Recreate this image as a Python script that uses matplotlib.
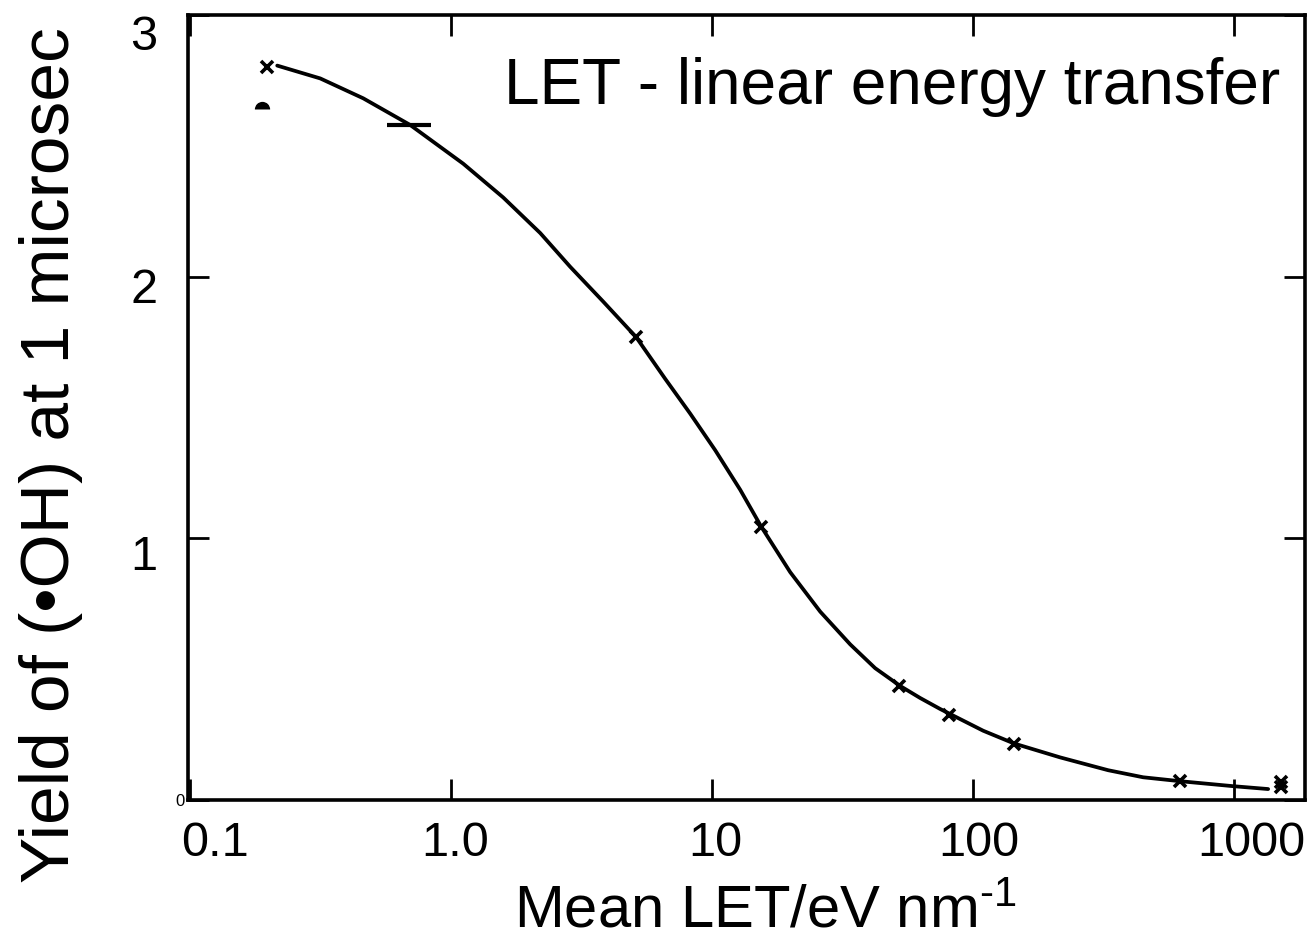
"""Yield of OH radicals versus mean LET, redrawn from a scanned figure."""
import matplotlib

matplotlib.use("Agg")
import matplotlib.pyplot as plt  # noqa: E402
import matplotlib.transforms as mtransforms  # noqa: E402

plt.rcParams["font.family"] = ["Liberation Sans", "DejaVu Sans"]
plt.rcParams["mathtext.fontset"] = "custom"
plt.rcParams["mathtext.rm"] = "Liberation Sans"
plt.rcParams["mathtext.it"] = "Liberation Sans:italic"

# smooth curve (LET in eV/nm, yield)
curve_let = [0.2154, 0.3148, 0.460, 0.6964, 1.112, 1.582, 2.193, 2.857,
             3.823, 5.114, 6.604, 8.234, 10.27, 12.80, 15.41, 19.90, 25.94,
             33.79, 42.12, 52.52, 62.65, 74.73, 109.2, 143.6, 215.4, 329.0,
             448.0, 621.1, 991, 1350]
curve_yield = [2.807, 2.758, 2.682, 2.580, 2.432, 2.303, 2.167, 2.038,
               1.905, 1.769, 1.610, 1.477, 1.337, 1.186, 1.045, 0.871, 0.720,
               0.595, 0.504, 0.436, 0.390, 0.348, 0.265, 0.216, 0.163, 0.114,
               0.087, 0.072, 0.053, 0.042]

# measured points (crosses)
point_let = [0.197, 5.11, 15.4, 52.2, 80.7, 143.6, 621, 1518, 1518]
point_yield = [2.80, 1.77, 1.045, 0.436, 0.326, 0.216, 0.072, 0.068, 0.050]

# stray marks from the original scan
dome_let, dome_yield = [0.189], [2.64]
dash_let, dash_yield = [0.69], [2.58]

xticks = [0.1, 1, 10, 100, 1000]
xtick_labels = ["0.1", "1.0", "10", "100", "1000"]
yticks = [0, 1, 2, 3]
ytick_labels = ["0", "1", "2", "3"]

fig = plt.figure(figsize=(13.09, 9.44), dpi=100)
ax = fig.add_axes([0.1436, 0.1525, 0.8534, 0.8315])

ax.plot(curve_let, curve_yield, color="black", lw=2.7, solid_capstyle="round",
        solid_joinstyle="round")
ax.plot(point_let, point_yield, ls="none", marker="x", color="black",
        markersize=8, mew=2.6)
ax.plot(dome_let, dome_yield, ls="none", marker="o", fillstyle="top",
        color="black", markerfacecoloralt="none", mew=0, markersize=11)
ax.plot(dash_let, dash_yield, ls="none", marker="_", color="black",
        markersize=31, mew=3)

ax.set_xscale("log")
ax.set_xlim(0.098, 1870)
ax.set_ylim(0, 2.973)

ax.set_xticks(xticks)
ax.set_xticklabels(xtick_labels)
ax.xaxis.set_minor_locator(matplotlib.ticker.NullLocator())
ax.set_yticks(yticks)
ax.set_yticklabels(ytick_labels)

ax.tick_params(axis="both", which="major", direction="in", length=15,
               width=2, top=True, right=True, labelsize=35, color="black")
ax.tick_params(axis="x", pad=15)
ax.tick_params(axis="y", pad=22)
for side in ax.spines.values():
    side.set_linewidth(2.6)

# nudge tick labels to where they sit in the original
for lab, dx in zip(ax.get_xticklabels(), [25, 4, 3, 6, 17]):
    lab.set_transform(lab.get_transform()
                      + mtransforms.ScaledTranslation(dx / 100, 0, fig.dpi_scale_trans))
for lab, dy in zip(ax.get_yticklabels(), [0, -14, -9, -17]):
    lab.set_transform(lab.get_transform()
                      + mtransforms.ScaledTranslation(0, dy / 100, fig.dpi_scale_trans))
zero = ax.get_yticklabels()[0]
zero.set_fontsize(12)
zero.set_transform(zero.get_transform()
                   + mtransforms.ScaledTranslation(0.27, 0, fig.dpi_scale_trans))

ax.set_xlabel(r"Mean LET/eV nm$^{\text{-1}}$", fontsize=43)
ax.xaxis.set_label_coords(0.5166, -0.108)
ax.set_ylabel("Yield of (\u2022OH) at 1 microsec", fontsize=50)
ax.yaxis.set_label_coords(-0.094, 0.4395)

ax.text(0.9776, 0.8866, "LET - linear energy transfer", transform=ax.transAxes,
        ha="right", va="baseline", fontsize=46)

fig.savefig("out.png", dpi=100)
